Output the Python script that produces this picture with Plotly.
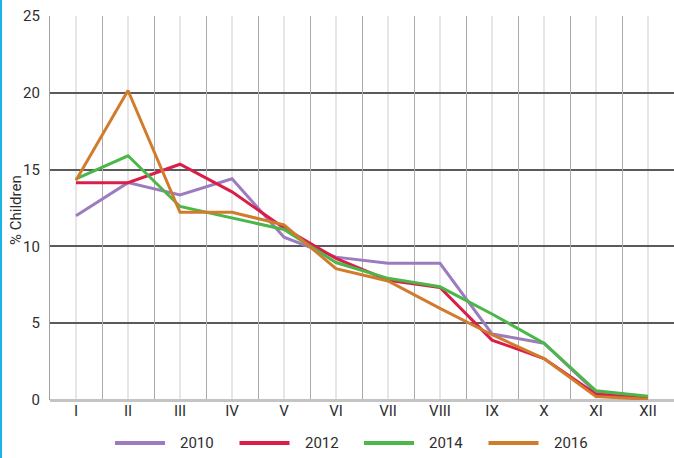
import plotly.graph_objects as go

# Share of children by group, per survey year
months = ["I", "II", "III", "IV", "V", "VI", "VII", "VIII", "IX", "X", "XI", "XII"]
years = ["2010", "2012", "2014", "2016"]
pct_2010 = [12.0, 14.15, 13.35, 14.4, 10.6, 9.3, 8.9, 8.9, 4.3, 3.7, 0.5, 0.15]
pct_2012 = [14.15, 14.15, 15.35, 13.55, 11.2, 9.22, 7.8, 7.33, 3.9, 2.7, 0.37, 0.08]
pct_2014 = [14.4, 15.9, 12.6, 11.83, 11.1, 8.95, 7.92, 7.37, 5.6, 3.7, 0.6, 0.25]
pct_2016 = [14.3, 20.15, 12.22, 12.22, 11.4, 8.55, 7.75, 5.97, 4.25, 2.7, 0.22, 0.05]
y_ticks = [0, 5, 10, 15, 20, 25]

series = [pct_2010, pct_2012, pct_2014, pct_2016]
colors = ["#9d7bbf", "#d91f49", "#4cb749", "#d17b2c"]

W, H = 674, 458
ML, MR, MT, MB = 50, 0, 16, 58
PW, PH = W - ML - MR, H - MT - MB

fig = go.Figure()
for name, vals, col in zip(years, series, colors):
    fig.add_trace(go.Scatter(
        x=months, y=vals, name=name, mode="lines",
        line=dict(color=col, width=3), showlegend=False,
    ))

# invisible trace that carries the boundary grid axis
fig.add_trace(go.Scatter(x=months, y=[None] * len(months), xaxis="x2",
                         mode="lines", showlegend=False, hoverinfo="skip"))

font = "Roboto, Lato, sans-serif"
txt = dict(family=font, size=15, color="#2e2e2e")
fig.update_layout(
    width=W, height=H,
    margin=dict(l=ML, r=MR, t=MT, b=MB),
    paper_bgcolor="white", plot_bgcolor="white",
    font=txt,
    xaxis=dict(
        type="category", categoryorder="array", categoryarray=months,
        range=[-0.5, 11.5], showgrid=True, gridcolor="#e6e6e6", gridwidth=1.5,
        zeroline=False, showline=False, ticks="",
        tickfont=txt,
    ),
    xaxis2=dict(
        type="category", categoryorder="array", categoryarray=months,
        overlaying="x", range=[-0.5, 11.5], tickson="boundaries",
        showgrid=True, gridcolor="#ababab", gridwidth=1.2,
        showticklabels=False, ticks="", zeroline=False, showline=False,
        side="bottom",
    ),
    yaxis=dict(
        range=[0, 25], tickvals=y_ticks, showgrid=True,
        gridcolor="#5a5a5a", gridwidth=1.6,
        zeroline=True, zerolinecolor="#c4c4c4", zerolinewidth=2.5,
        showline=True, linecolor="#a0a0a0", linewidth=1.2,
        ticks="outside", ticklen=6, tickcolor="rgba(0,0,0,0)",
        tickfont=txt,
    ),
)

# y-axis title
fig.add_annotation(xref="paper", yref="paper", x=-(ML - 16) / PW, y=0.495,
                   text="% Children", textangle=-90, showarrow=False,
                   xanchor="center", yanchor="middle", font=txt)

# legend row beneath the axis
leg_y = -(443 - (MT + PH)) / PH
start_px, step_px, line_px, gap_px = 115, 124.5, 50, 13
for i, (name, col) in enumerate(zip(years, colors)):
    x0 = (start_px + i * step_px - ML) / PW
    x1 = x0 + line_px / PW
    fig.add_shape(type="line", xref="paper", yref="paper",
                  x0=x0, x1=x1, y0=leg_y, y1=leg_y,
                  line=dict(color=col, width=4))
    fig.add_annotation(xref="paper", yref="paper", x=x1 + gap_px / PW, y=leg_y,
                       text=name, showarrow=False, xanchor="left", yanchor="middle",
                       font=txt)

# left frame accent
fig.add_shape(type="line", xref="paper", yref="paper",
              x0=-(ML - 1) / PW, x1=-(ML - 1) / PW, y0=-MB / PH, y1=1 + MT / PH,
              line=dict(color="#17b4e4", width=2))

fig.write_html("out.html")
